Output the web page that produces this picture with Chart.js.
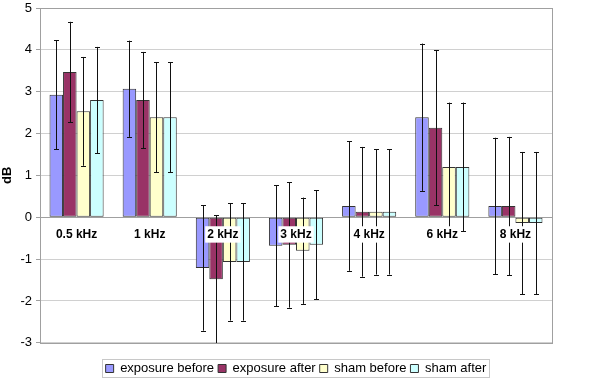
<!DOCTYPE html>
<html>
<head>
<meta charset="utf-8">
<title>dB change by frequency</title>
<script src="https://cdn.jsdelivr.net/npm/chart.js/dist/chart.umd.min.js"></script>
<style>
  html, body { margin: 0; padding: 0; background: #fff; }
  #wrap { width: 600px; height: 391px; }
</style>
</head>
<body>
<div id="wrap"><canvas id="myChart"></canvas></div>
<script>
// data
const categories = ['0.5 kHz', '1 kHz', '2 kHz', '3 kHz', '4 kHz', '6 kHz', '8 kHz'];
const yTicks = [-3, -2, -1, 0, 1, 2, 3, 4, 5];

const exposureBefore    = [2.93, 3.07, -1.21, -0.68, 0.27, 2.39, 0.27];
const exposureBeforeErr = [1.30, 1.15, 1.50, 1.45, 1.55, 1.76, 1.63];
const exposureAfter     = [3.47, 2.80, -1.48, -0.66, 0.13, 2.14, 0.27];
const exposureAfterErr  = [1.20, 1.15, 1.53, 1.50, 1.55, 1.85, 1.65];
const shamBefore        = [2.53, 2.39, -1.07, -0.80, 0.13, 1.20, -0.14];
const shamBeforeErr     = [1.30, 1.32, 1.40, 1.27, 1.50, 1.54, 1.70];
const shamAfter         = [2.80, 2.39, -1.07, -0.66, 0.13, 1.20, -0.14];
const shamAfterErr      = [1.27, 1.32, 1.40, 1.30, 1.50, 1.54, 1.70];

const FONT = "'Liberation Sans', Arial, sans-serif";

// error bars + plot frame + legend frame
const extras = {
    id: 'extras',
    afterDatasetsDraw(chart) {
        const ctx = chart.ctx;
        const y = chart.scales.y;
        ctx.save();
        ctx.strokeStyle = '#111';
        ctx.lineWidth = 1;
        chart.data.datasets.forEach((ds, i) => {
            const meta = chart.getDatasetMeta(i);
            meta.data.forEach((bar, j) => {
                const v = ds.data[j], e = ds.err[j];
                const x = Math.round(bar.x) + 0.5;
                const yt = y.getPixelForValue(v + e);
                const yb = y.getPixelForValue(v - e);
                ctx.beginPath();
                ctx.moveTo(x, yt); ctx.lineTo(x, yb);
                ctx.moveTo(x - 2.5, Math.round(yt) + 0.5); ctx.lineTo(x + 2.5, Math.round(yt) + 0.5);
                ctx.moveTo(x - 2.5, Math.round(yb) + 0.5); ctx.lineTo(x + 2.5, Math.round(yb) + 0.5);
                ctx.stroke();
            });
        });
        ctx.restore();
    },
    afterDraw(chart) {
        const ctx = chart.ctx;
        const a = chart.chartArea;
        ctx.save();
        ctx.strokeStyle = '#a0a0a0';
        ctx.lineWidth = 1;
        ctx.strokeRect(Math.round(a.left) + 0.5, Math.round(a.top) + 0.5,
                       Math.round(a.right - a.left), Math.round(a.bottom - a.top));
        const boxes = chart.legend.legendHitBoxes;
        if (boxes && boxes.length) {
            let l = Infinity, r = -Infinity, t = Infinity, b = -Infinity;
            boxes.forEach(h => {
                l = Math.min(l, h.left); r = Math.max(r, h.left + h.width);
                t = Math.min(t, h.top); b = Math.max(b, h.top + h.height);
            });
            ctx.strokeStyle = '#c8c8c8';
            ctx.strokeRect(Math.round(l - 4) + 0.5, Math.round(t - 3) + 0.5,
                           Math.round(r - l + 6), Math.round(b - t + 5));
        }
        ctx.restore();
    }
};

function series(label, data, err, color) {
    return {
        label: label,
        data: data,
        err: err,
        backgroundColor: color,
        borderColor: '#333',
        borderWidth: 1,
        borderSkipped: false,
        categoryPercentage: 0.74,
        barPercentage: 1.0
    };
}

const ctx = document.getElementById('myChart').getContext('2d');
const myChart = new Chart(ctx, {
    type: 'bar',
    data: {
        labels: categories,
        datasets: [
            series('exposure before', exposureBefore, exposureBeforeErr, '#9999ff'),
            series('exposure after', exposureAfter, exposureAfterErr, '#993366'),
            series('sham before', shamBefore, shamBeforeErr, '#ffffcc'),
            series('sham after', shamAfter, shamAfterErr, '#ccffff')
        ]
    },
    options: {
        responsive: true,
        maintainAspectRatio: false,
        animation: false,
        devicePixelRatio: 1,
        layout: { padding: { left: 0, right: 48, top: 8, bottom: 6 } },
        plugins: {
            tooltip: { enabled: false },
            legend: {
                position: 'bottom',
                fullSize: false,
                title: { display: true, text: '', font: { size: 1 }, padding: { top: 0, bottom: 14 } },
                labels: {
                    font: { family: FONT, size: 13 },
                    color: '#000',
                    boxWidth: 8,
                    boxHeight: 8,
                    padding: 4
                }
            }
        },
        scales: {
            x: {
                position: { y: 0 },
                grid: { display: false },
                border: { display: true, color: '#a0a0a0' },
                ticks: {
                    z: 1,
                    font: { family: FONT, size: 12, weight: 'bold' },
                    color: '#000',
                    padding: 2,
                    maxRotation: 0,
                    showLabelBackdrop: true,
                    backdropColor: '#fff',
                    backdropPadding: { top: 1, bottom: 1, left: 2, right: 2 }
                }
            },
            y: {
                min: -3,
                max: 5,
                afterBuildTicks(scale) { scale.ticks = yTicks.map(v => ({ value: v })); },
                afterFit(scale) {
                    scale.width = 40;
                    scale.paddingTop = 2;
                    scale.paddingBottom = 2;
                },
                grid: { color: '#d0d0d0', tickLength: 4, tickColor: '#a0a0a0' },
                border: { display: true, color: '#a0a0a0' },
                ticks: {
                    font: { family: FONT, size: 13 },
                    color: '#000',
                    padding: 4
                },
                title: {
                    display: true,
                    text: 'dB',
                    font: { family: FONT, size: 13, weight: 'bold' },
                    color: '#000',
                    padding: 0
                }
            }
        }
    },
    plugins: [extras]
});
</script>
</body>
</html>
